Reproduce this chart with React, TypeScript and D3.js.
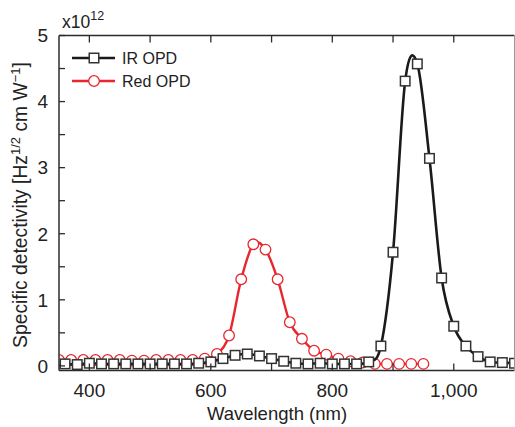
import React from "react";
import * as d3 from "d3";

const irWavelength = [360, 380, 400, 420, 440, 460, 480, 500, 520, 540, 560, 580, 600, 620, 640, 660, 680, 700, 720, 740, 760, 780, 800, 820, 840, 860, 880, 900, 920, 940, 960, 980, 1000, 1020, 1040, 1060, 1080, 1100];
const irValues = [0.03, 0.02, 0.04, 0.03, 0.03, 0.03, 0.03, 0.03, 0.03, 0.03, 0.03, 0.04, 0.06, 0.11, 0.16, 0.18, 0.15, 0.11, 0.07, 0.04, 0.03, 0.04, 0.03, 0.03, 0.03, 0.06, 0.30, 1.72, 4.31, 4.57, 3.14, 1.33, 0.60, 0.30, 0.14, 0.06, 0.05, 0.04];

const redWavelength = [350, 370, 390, 410, 430, 450, 470, 490, 510, 530, 550, 570, 590, 610, 630, 650, 670, 690, 710, 730, 750, 770, 790, 810, 830, 850, 870, 890, 910, 930, 950];
const redValues = [0.09, 0.09, 0.09, 0.09, 0.09, 0.09, 0.08, 0.08, 0.09, 0.09, 0.09, 0.09, 0.11, 0.18, 0.46, 1.31, 1.84, 1.76, 1.31, 0.66, 0.41, 0.23, 0.17, 0.11, 0.07, 0.05, 0.03, 0.03, 0.03, 0.03, 0.03];

const xTickLabels = [400, 600, 800, 1000];
const xMinorTicks = [400, 500, 600, 700, 800, 900, 1000];
const yTickLabels = [0, 1, 2, 3, 4, 5];
const yMinorTicks = [0, 0.5, 1, 1.5, 2, 2.5, 3, 3.5, 4, 4.5, 5];

const FONT = "'Liberation Sans', Arial, Helvetica, sans-serif";

export default function App() {
  const W = 515, H = 427;
  const left = 59, right = 514.5, top = 35.5, bottom = 370.5;
  const x = d3.scaleLinear().domain([350, 1100]).range([left, right]);
  const y = d3.scaleLinear().domain([-0.07, 5]).range([bottom, top]);

  const line = d3
    .line<[number, number]>()
    .x((d) => x(d[0]))
    .y((d) => y(d[1]))
    .curve(d3.curveCardinal.tension(0));

  const irData: [number, number][] = irWavelength.map((w, i) => [w, irValues[i]]);
  const redData: [number, number][] = redWavelength.map((w, i) => [w, redValues[i]]);

  const fmt = d3.format(",");
  const axisColor = "#2b2b2b";
  const red = "#e8262d";
  const sq = 9.5;

  return (
    <svg width={W} height={H} style={{ position: "absolute", left: 0, top: 0, background: "#fff" }} fontFamily={FONT}>
      <defs>
        <clipPath id="plotClip">
          <rect x={left} y={top} width={right - left} height={bottom - top} />
        </clipPath>
      </defs>

      <g clipPath="url(#plotClip)">
        <path d={line(redData) || ""} fill="none" stroke={red} strokeWidth={2.4} />
        {redData.map((d, i) => (
          <circle key={"r" + i} cx={x(d[0])} cy={y(d[1])} r={5.3} fill="#fff" stroke={red} strokeWidth={1.3} />
        ))}
        <path d={line(irData) || ""} fill="none" stroke="#1a1a1a" strokeWidth={2.6} />
        {irData.map((d, i) => (
          <rect key={"i" + i} x={x(d[0]) - sq / 2} y={y(d[1]) - sq / 2} width={sq} height={sq} fill="#fff" stroke="#333" strokeWidth={1.5} />
        ))}
      </g>

      {/* frame */}
      <line x1={left} x2={right} y1={top} y2={top} stroke={axisColor} strokeWidth={1.5} />
      <line x1={left} x2={right} y1={bottom} y2={bottom} stroke={axisColor} strokeWidth={1.5} />
      <line x1={left} x2={left} y1={top} y2={bottom} stroke={axisColor} strokeWidth={1.5} />
      <line x1={right} x2={right} y1={top} y2={bottom} stroke="#999" strokeWidth={1} />

      {/* x ticks */}
      {xMinorTicks.map((t) => (
        <g key={"xt" + t}>
          <line x1={x(t)} x2={x(t)} y1={bottom} y2={bottom - 7} stroke={axisColor} strokeWidth={1.3} />
          <line x1={x(t)} x2={x(t)} y1={top} y2={top + 7} stroke={axisColor} strokeWidth={1.3} />
        </g>
      ))}
      {xTickLabels.map((t) => (
        <text key={"xl" + t} x={x(t)} y={397} textAnchor="middle" fontSize={19} fill="#222">
          {fmt(t)}
        </text>
      ))}

      {/* y ticks */}
      {yMinorTicks.map((t) => (
        <line key={"yt" + t} x1={left} x2={left + 6} y1={y(t)} y2={y(t)} stroke={axisColor} strokeWidth={1.3} />
      ))}
      {yTickLabels.map((t) => (
        <text key={"yl" + t} x={48} y={y(t)} dy="0.36em" textAnchor="end" fontSize={19} fill="#222">
          {t}
        </text>
      ))}

      {/* multiplier */}
      <text x={62} y={28} fontSize={17.5} fill="#222">
        x10<tspan dy={-8} fontSize={12.5}>12</tspan>
      </text>

      {/* axis titles */}
      <text x={277} y={420} textAnchor="middle" fontSize={18.5} fill="#222">
        Wavelength (nm)
      </text>
      <text transform="translate(27,205) rotate(-90)" textAnchor="middle" fontSize={19.3} fill="#222">
        Specific detectivity [Hz<tspan dy={-7} fontSize={13}>1/2</tspan>
        <tspan dy={7}> cm W</tspan>
        <tspan dy={-7} fontSize={13}>−1</tspan>
        <tspan dy={7}>]</tspan>
      </text>

      {/* legend */}
      <g>
        <line x1={72} x2={115} y1={58} y2={58} stroke="#1a1a1a" strokeWidth={2.6} />
        <rect x={94 - sq / 2} y={58 - sq / 2} width={sq} height={sq} fill="#fff" stroke="#333" strokeWidth={1.5} />
        <text x={122} y={63.5} fontSize={16} fill="#222">IR OPD</text>
        <line x1={72} x2={115} y1={81} y2={81} stroke={red} strokeWidth={2.4} />
        <circle cx={94} cy={81} r={5.3} fill="#fff" stroke={red} strokeWidth={1.3} />
        <text x={122} y={86.5} fontSize={16} fill="#222">Red OPD</text>
      </g>
    </svg>
  );
}
